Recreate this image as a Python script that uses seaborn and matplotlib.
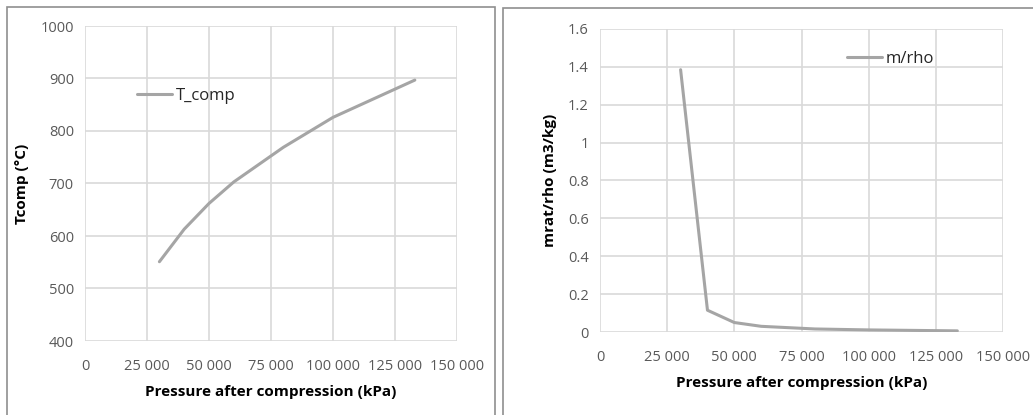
import matplotlib
matplotlib.use("Agg")
import matplotlib.pyplot as plt
import seaborn as sns
import pandas as pd
from matplotlib.patches import Rectangle
from matplotlib.ticker import FuncFormatter

pressure = [30000, 40000, 50000, 60000, 80000, 100000, 133000]
t_comp = [551, 613, 662, 703, 769, 826, 897]
m_rho = [1.385, 0.115, 0.05, 0.03, 0.016, 0.011, 0.006]

x_ticks = [0, 25000, 50000, 75000, 100000, 125000, 150000]
t_ticks = [400, 500, 600, 700, 800, 900, 1000]
m_ticks = [0, 0.2, 0.4, 0.6, 0.8, 1.0, 1.2, 1.4, 1.6]

sns.set_theme(style="white")
plt.rcParams['font.family'] = ['Open Sans', 'DejaVu Sans']

W, H = 1033, 415
fig = plt.figure(figsize=(W / 100, H / 100), dpi=100)

def px_axes(x0, y0, x1, y1):
    return fig.add_axes([x0 / W, 1 - y1 / H, (x1 - x0) / W, (y1 - y0) / H])

# panel borders
border = "#8f8f8f"
fig.patches.append(Rectangle((7 / W, -0.05), (495 - 7) / W, 1 - 7 / H + 0.05,
                             transform=fig.transFigure, fill=False,
                             edgecolor=border, linewidth=1.2))
fig.patches.append(Rectangle((503 / W, -0.05), (1040 - 503) / W, 1 - 8 / H + 0.05,
                             transform=fig.transFigure, fill=False,
                             edgecolor=border, linewidth=1.2))

line_color = "#a5a5a5"
grid_color = "#d9d9d9"
tick_color = "#595959"

def thousands(v, pos):
    if v == 0:
        return "0"
    return f"{int(v):,}".replace(",", " ")

def style(ax, yticks, ylim):
    ax.set_xlim(0, 150000)
    ax.set_ylim(*ylim)
    ax.set_xticks(x_ticks)
    ax.set_yticks(yticks)
    ax.xaxis.set_major_formatter(FuncFormatter(thousands))
    ax.grid(True, color=grid_color, linewidth=1.2)
    for s in ax.spines.values():
        s.set_visible(False)
    ax.tick_params(axis="both", length=0, labelsize=10.5, colors=tick_color)
    ax.tick_params(axis="x", pad=13)
    ax.tick_params(axis="y", pad=8)
    ax.set_xlabel("Pressure after compression (kPa)", fontsize=11,
                  fontweight="bold", color="black", labelpad=8)

def add_legend(ax, label, x, y):
    ax.legend(handles=[plt.Line2D([], [], color=line_color, linewidth=2.2)],
              labels=[label], frameon=False, fontsize=12, handlelength=2.1,
              handletextpad=0.2, loc="center left", bbox_to_anchor=(x, y),
              borderaxespad=0, borderpad=0)

# left chart
ax1 = px_axes(85, 26, 457, 341)
df1 = pd.DataFrame({"p": pressure, "t": t_comp})
sns.lineplot(data=df1, x="p", y="t", ax=ax1, color=line_color, linewidth=2.2)
style(ax1, t_ticks, (400, 1000))
ax1.set_ylabel("Tcomp (°C)", fontsize=11, fontweight="bold", color="black", labelpad=8)
add_legend(ax1, "T_comp", 0.14, 0.778)

# right chart
ax2 = px_axes(600, 29, 1003, 332)
df2 = pd.DataFrame({"p": pressure, "m": m_rho})
sns.lineplot(data=df2, x="p", y="m", ax=ax2, color=line_color, linewidth=2.2)
style(ax2, m_ticks, (0, 1.6))
ax2.yaxis.set_major_formatter(FuncFormatter(lambda v, p: f"{v:g}"))
ax2.set_ylabel("mrat/rho (m3/kg)", fontsize=11, fontweight="bold", color="black", labelpad=8)
add_legend(ax2, "m/rho", 0.613, 0.901)

fig.savefig("out.png", dpi=100)
